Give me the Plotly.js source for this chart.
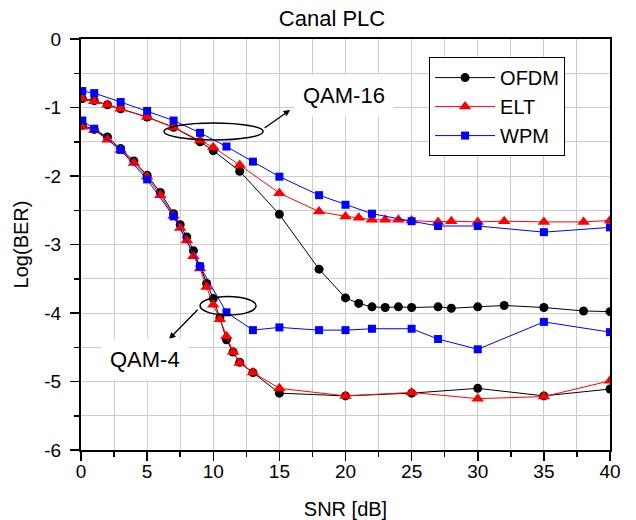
<!DOCTYPE html>
<html>
<head>
<meta charset="utf-8">
<script src="https://cdn.plot.ly/plotly-3.0.1.min.js"></script>
<style>html,body{margin:0;padding:0;background:#fff;}#chart{width:636px;height:520px;}</style>
</head>
<body>
<div id="chart"></div>
<script>
// ---- QAM-16 curves ----
const ofdm16_x = [0.1, 1, 2, 3, 5, 7, 9, 10, 12, 15, 18, 20, 21, 22, 23, 24, 25, 27, 28, 30, 32, 35, 38, 40];
const ofdm16_y = [-0.87, -0.9, -0.96, -1.02, -1.14, -1.29, -1.5, -1.63, -1.93, -2.56, -3.36, -3.78, -3.86, -3.91, -3.92, -3.91, -3.92, -3.91, -3.93, -3.91, -3.89, -3.92, -3.97, -3.98];
const elt16_x = [0.1, 1, 2, 3, 5, 7, 9, 10, 12, 15, 18, 20, 21, 22, 23, 24, 25, 27, 28, 30, 32, 35, 38, 40];
const elt16_y = [-0.87, -0.91, -0.96, -1.02, -1.14, -1.29, -1.48, -1.58, -1.84, -2.25, -2.52, -2.59, -2.61, -2.64, -2.64, -2.64, -2.65, -2.67, -2.66, -2.67, -2.66, -2.67, -2.67, -2.65];
const wpm16_x = [0.1, 1, 3, 5, 7, 9, 11, 13, 15, 18, 20, 22, 25, 27, 30, 35, 40];
const wpm16_y = [-0.76, -0.79, -0.92, -1.05, -1.19, -1.37, -1.57, -1.79, -2.01, -2.28, -2.42, -2.55, -2.66, -2.73, -2.73, -2.82, -2.75];

// ---- QAM-4 curves ----
const ofdm4_x = [0.1, 1, 2, 3, 4, 5, 6, 7, 7.5, 8, 8.5, 9, 9.5, 10, 10.5, 11, 11.5, 12, 13, 15, 20, 25, 30, 35, 40];
const ofdm4_y = [-1.26, -1.32, -1.43, -1.6, -1.78, -1.99, -2.24, -2.55, -2.71, -2.89, -3.09, -3.32, -3.57, -3.79, -4.07, -4.39, -4.57, -4.72, -4.87, -5.17, -5.21, -5.17, -5.1, -5.21, -5.11];
const elt4_x = [0.1, 1, 2, 3, 4, 5, 6, 7, 7.5, 8, 8.5, 9, 9.5, 10, 10.5, 11, 11.5, 12, 13, 15, 20, 25, 30, 35, 40];
const elt4_y = [-1.28, -1.33, -1.47, -1.62, -1.81, -2.01, -2.28, -2.58, -2.76, -2.94, -3.17, -3.35, -3.62, -3.88, -4.09, -4.34, -4.57, -4.73, -4.87, -5.1, -5.21, -5.16, -5.25, -5.22, -4.99];
const wpm4_x = [0.1, 1, 3, 5, 7, 9, 11, 13, 15, 18, 20, 22, 25, 27, 30, 35, 40];
const wpm4_y = [-1.19, -1.31, -1.62, -2.05, -2.59, -3.32, -3.99, -4.25, -4.21, -4.25, -4.25, -4.23, -4.23, -4.38, -4.53, -4.13, -4.28];

const seriesNames = ['OFDM', 'ELT', 'WPM'];
const xTickVals = [0, 5, 10, 15, 20, 25, 30, 35, 40];
const yTickVals = [0, -1, -2, -3, -4, -5, -6];

const FONT = 'Liberation Sans, Arial, sans-serif';

const styles = {
  OFDM: {color: '#000000', symbol: 'circle', size: 9},
  ELT: {color: '#ff0000', symbol: 'triangle-up', size: 11},
  WPM: {color: '#0000ff', symbol: 'square', size: 8}
};

function mk(name, x, y, show) {
  const s = styles[name];
  return {
    type: 'scatter', mode: 'lines+markers', name: name, x: x, y: y,
    legendgroup: name, showlegend: show,
    line: {color: s.color, width: 1},
    marker: {color: s.color, symbol: s.symbol, size: s.size}
  };
}

const data = [
  mk('OFDM', ofdm16_x, ofdm16_y, true),
  mk('OFDM', ofdm4_x, ofdm4_y, false),
  mk('ELT', elt16_x, elt16_y, true),
  mk('ELT', elt4_x, elt4_y, false),
  mk('WPM', wpm16_x, wpm16_y, true),
  mk('WPM', wpm4_x, wpm4_y, false)
];

const layout = {
  width: 636, height: 520,
  margin: {l: 81, r: 26, t: 39, b: 70},
  paper_bgcolor: '#ffffff', plot_bgcolor: '#ffffff',
  font: {family: FONT, color: '#000000', size: 19},
  title: {text: 'Canal PLC', font: {size: 22, family: FONT, color: '#000'}, x: 0.522, xanchor: 'center', y: 0.965, yanchor: 'middle'},
  xaxis: {
    range: [0, 40], tickvals: xTickVals, ticktext: xTickVals.map(String),
    ticks: 'outside', ticklen: 9, tickwidth: 1.5, tickcolor: '#000',
    showline: true, linecolor: '#000', linewidth: 2, mirror: true,
    showgrid: true, gridcolor: '#cccccc', gridwidth: 1,
    minor: {dtick: 2.5, tick0: 0, ticks: 'outside', ticklen: 5, tickwidth: 1.5, tickcolor: '#000', showgrid: true, gridcolor: '#cccccc', gridwidth: 1},
    zeroline: false, ticklabelstandoff: -6,
    tickfont: {size: 19, family: FONT},
    title: {text: 'SNR [dB]', font: {size: 20, family: FONT}, standoff: 23}
  },
  yaxis: {
    range: [-6, 0], tickvals: yTickVals, ticktext: yTickVals.map(String),
    ticks: 'outside', ticklen: 9, tickwidth: 1.5, tickcolor: '#000',
    showline: true, linecolor: '#000', linewidth: 2, mirror: true,
    showgrid: true, gridcolor: '#cccccc', gridwidth: 1,
    minor: {dtick: 0.5, tick0: 0, ticks: 'outside', ticklen: 5, tickwidth: 1.5, tickcolor: '#000', showgrid: true, gridcolor: '#cccccc', gridwidth: 1},
    zeroline: false, ticklabelstandoff: 5,
    tickfont: {size: 19, family: FONT},
    title: {text: 'Log(BER)', font: {size: 20, family: FONT}, standoff: 10}
  },
  legend: {
    x: 0.658, y: 0.956, xanchor: 'left', yanchor: 'top',
    bgcolor: '#ffffff', bordercolor: '#000000', borderwidth: 1,
    font: {size: 20, family: FONT}, itemwidth: 60, tracegroupgap: 0
  },
  shapes: [
    {type: 'circle', xref: 'x', yref: 'y', x0: 6.28, x1: 13.77, y0: -1.226, y1: -1.474, line: {color: '#000', width: 1.5}},
    {type: 'circle', xref: 'x', yref: 'y', x0: 9.0, x1: 13.24, y0: -3.76, y1: -4.03, line: {color: '#000', width: 1.5}}
  ],
  annotations: [
    {x: 15.81, y: -1.036, ax: 13.77, ay: -1.314, axref: 'x', ayref: 'y', xref: 'x', yref: 'y', text: '', showarrow: true, arrowhead: 2, arrowsize: 1, arrowwidth: 1.3, arrowcolor: '#000'},
    {x: 6.66, y: -4.38, ax: 8.93, ay: -3.93, axref: 'x', ayref: 'y', xref: 'x', yref: 'y', text: '', showarrow: true, arrowhead: 2, arrowsize: 1, arrowwidth: 1.3, arrowcolor: '#000'},
    {x: 19.86, y: -0.82, xref: 'x', yref: 'y', text: 'QAM-16', showarrow: false, bgcolor: '#ffffff', borderpad: 8, font: {size: 22, family: FONT, color: '#000'}},
    {x: 4.84, y: -4.686, xref: 'x', yref: 'y', text: 'QAM-4', showarrow: false, bgcolor: '#ffffff', borderpad: 8, font: {size: 22, family: FONT, color: '#000'}}
  ]
};

Plotly.newPlot('chart', data, layout, {displayModeBar: false, staticPlot: true});
</script>
</body>
</html>
